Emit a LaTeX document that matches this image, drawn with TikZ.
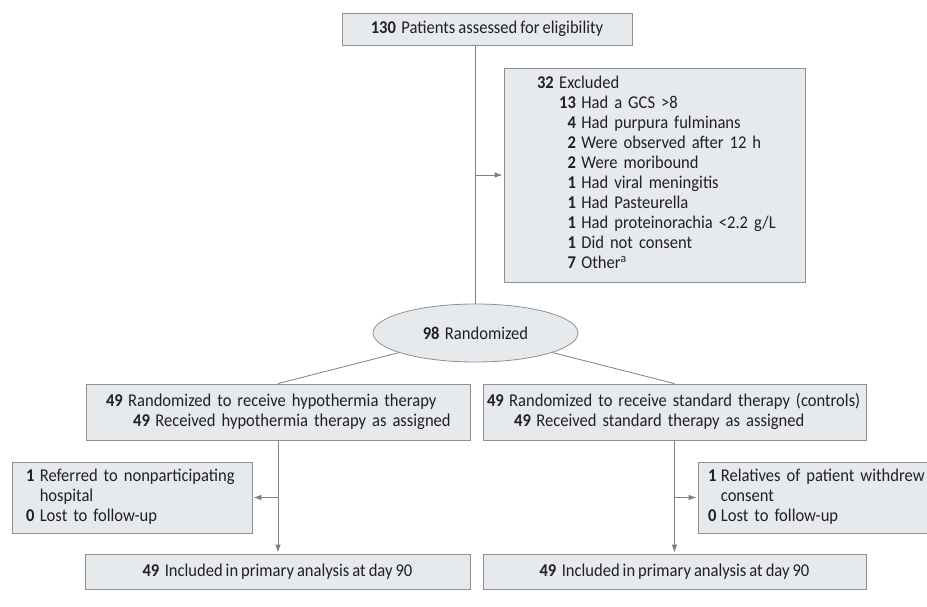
\documentclass[tikz,border=0pt]{standalone}
\usepackage{fontspec}
\setmainfont{Carlito}[FakeStretch=0.92,WordSpace=0.8]
\usepackage{tikz}
\usetikzlibrary{shapes.geometric,arrows.meta}
\usepackage{xcolor}
\definecolor{BoxFill}{HTML}{E6EAED}
\definecolor{BoxLine}{HTML}{8E9092}
\definecolor{Link}{HTML}{808080}
\definecolor{Ink}{HTML}{231F20}
\newcommand{\cnt}[1]{\textbf{#1}\hspace{0.3em}}

\begin{document}
\begin{tikzpicture}[x=1pt,y=-1pt, every node/.style={text=Ink,font=\fontsize{18}{20}\selectfont,inner sep=0pt}, flowbox/.style={draw=BoxLine,fill=BoxFill,line width=0.8pt}, link/.style={draw=Link,line width=0.8pt}, arrowlink/.style={link,shorten >=1pt,-{Latex[length=8pt,width=5.5pt]}}]
\useasboundingbox (0,0) rectangle (927,607);
\node[flowbox,minimum width=290pt,minimum height=32pt,align=center] (total) at (487,29) {\cnt{130}Patients assessed for eligibility};
\node[flowbox,minimum width=301pt,minimum height=214pt,text width=235pt,align=left] (excl) at (654.5,175) {\begin{tabular}{@{}r@{\hspace{0.3em}}r@{\hspace{0.3em}}l@{}}
\textbf{32} & \multicolumn{2}{@{}l@{}}{Excluded}\\
& \textbf{13} & Had a GCS >8\\
& \textbf{4} & Had purpura fulminans\\
& \textbf{2} & Were observed after 12 h\\
& \textbf{2} & Were moribound\\
& \textbf{1} & Had viral meningitis\\
& \textbf{1} & Had Pasteurella\\
& \textbf{1} & Had proteinorachia <2.2 g/L\\
& \textbf{1} & Did not consent\\
& \textbf{7} & Other\textsuperscript{a}
\end{tabular}};
\node[flowbox,ellipse,minimum width=205pt,minimum height=58pt] (rand) at (475.5,333) {\cnt{98}Randomized};
\node[flowbox,minimum width=384pt,minimum height=56pt,text width=344pt,align=left] (hypo) at (278,412) {\begin{tabular}{@{}r@{\hspace{0.3em}}r@{\hspace{0.3em}}l@{}}
\textbf{49} & \multicolumn{2}{@{}l@{}}{Randomized to receive hypothermia therapy}\\
& \hspace{5pt}\textbf{49} & Received hypothermia therapy as assigned
\end{tabular}};
\node[flowbox,minimum width=383pt,minimum height=56pt,text width=375pt,align=left] (std) at (674.5,412) {\begin{tabular}{@{}r@{\hspace{0.3em}}r@{\hspace{0.3em}}l@{}}
\textbf{49} & \multicolumn{2}{@{}l@{}}{Randomized to receive standard therapy (controls)}\\
& \hspace{5pt}\textbf{49} & Received standard therapy as assigned
\end{tabular}};
\node[flowbox,minimum width=240pt,minimum height=71pt,text width=212pt,align=left] (lostL) at (132,497.5) {\begin{tabular}{@{}r@{\hspace{0.3em}}l@{}}
\textbf{1} & Referred to nonparticipating\\
& hospital\\
\textbf{0} & Lost to follow-up
\end{tabular}};
\node[flowbox,minimum width=250pt,minimum height=71pt,text width=230pt,align=left] (lostR) at (823,497.5) {\begin{tabular}{@{}r@{\hspace{0.25em}}l@{}}
\textbf{1} & Relatives of patient withdrew\\
& consent\\
\textbf{0} & Lost to follow-up
\end{tabular}};
\node[flowbox,minimum width=385pt,minimum height=35pt,align=center] (inclL) at (277.5,571.5) {\cnt{49}Included in primary analysis at day 90};
\node[flowbox,minimum width=383pt,minimum height=35pt,align=center] (inclR) at (674.5,571.5) {\cnt{49}Included in primary analysis at day 90};
\draw[link] (total.south -| rand.north) -- (rand.north);
\draw[arrowlink] (excl.west -| rand.north) -- (excl.west);
\draw[link] (rand) -- (hypo.north);
\draw[link] (rand) -- (std.north);
\draw[arrowlink] (hypo.south) -- (hypo.south |- inclL.north);
\draw[arrowlink] (lostL.east -| hypo.south) -- (lostL.east);
\draw[arrowlink] (std.south) -- (std.south |- inclR.north);
\draw[arrowlink] (lostR.west -| std.south) -- (lostR.west);
\end{tikzpicture}
\end{document}
